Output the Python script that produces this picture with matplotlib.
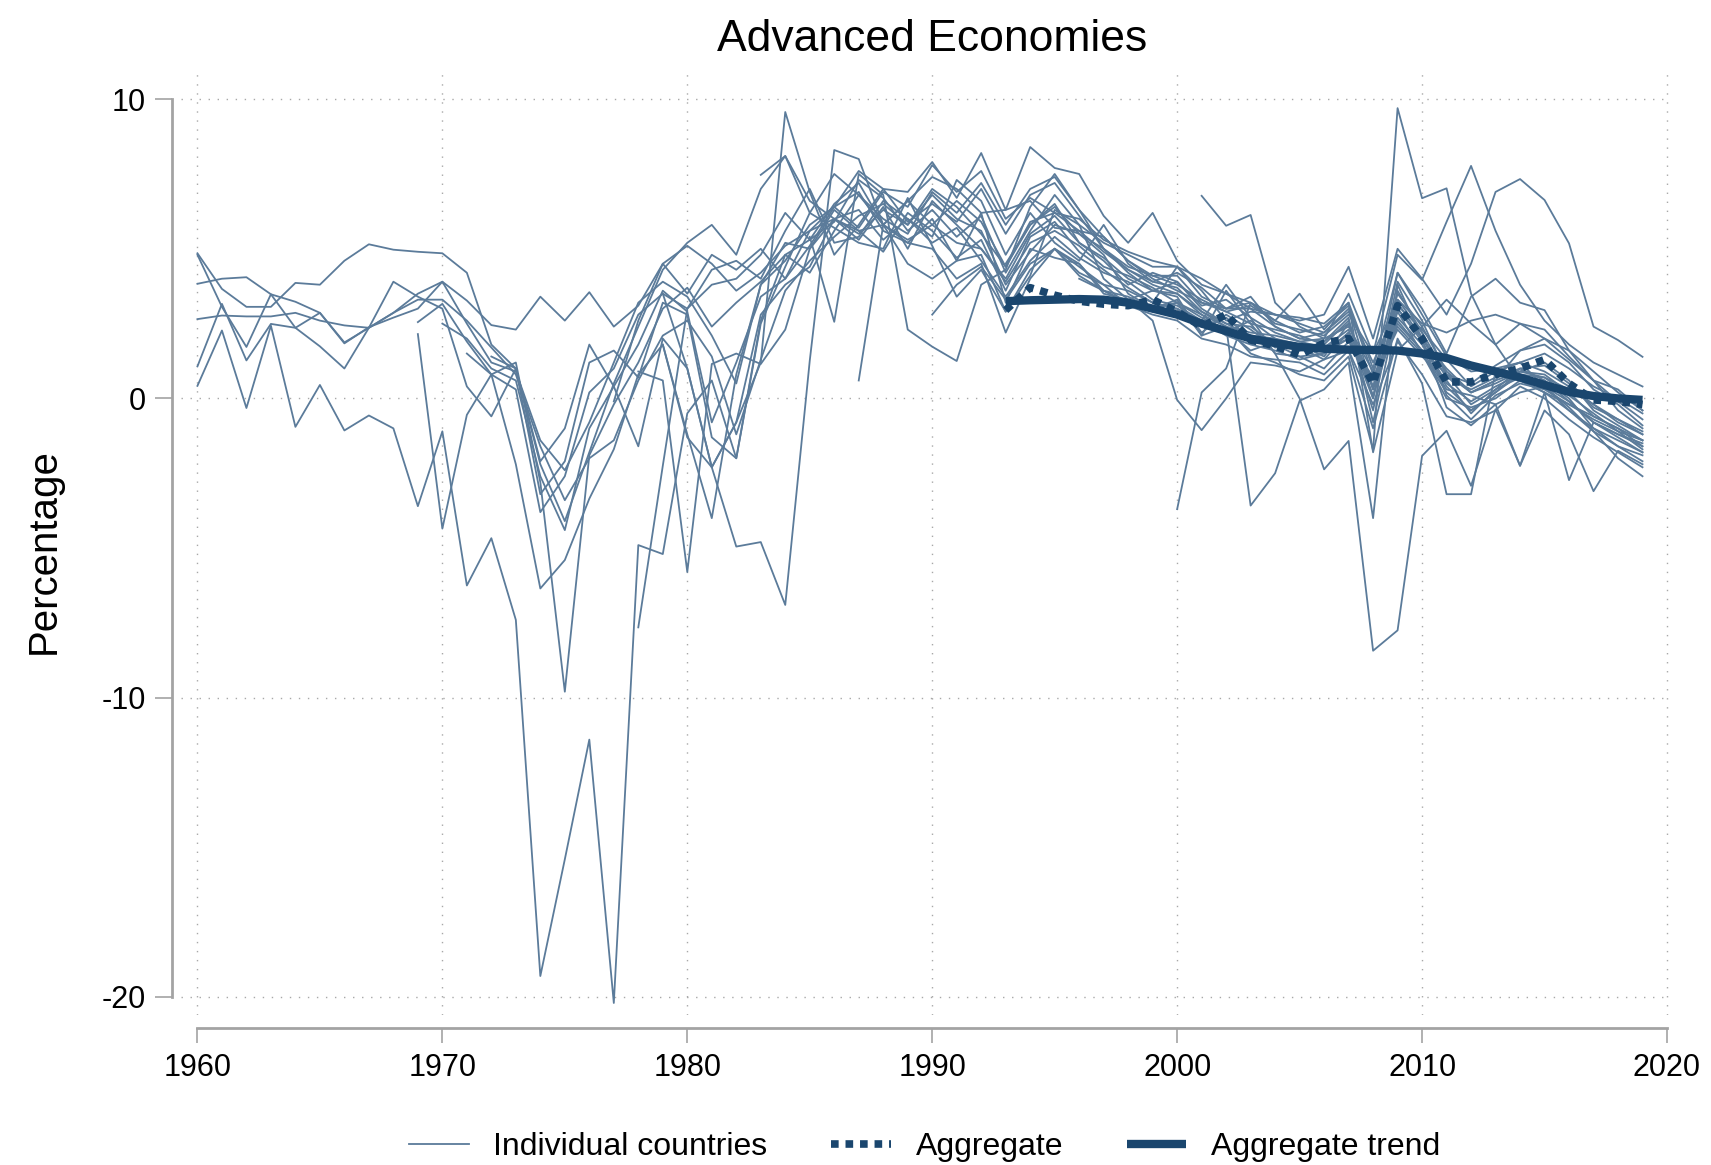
import numpy as np
import matplotlib
matplotlib.use("Agg")
import matplotlib.pyplot as plt
from matplotlib.lines import Line2D

plt.rcParams['font.family'] = ['Liberation Sans', 'DejaVu Sans']
plt.rcParams['axes.unicode_minus'] = False

# individual countries: first year with data, then one value per year up to 2019
c01 = [4.85, 3.66, 3.06, 3.06, 3.86, 3.80, 4.60, 5.15, 4.97, 4.90,
       4.85, 4.20, 1.80, 1.00, -2.20, -4.10, -1.80, 0.50, 2.40, 4.30,
       5.20, 5.80, 4.80, 7.00, 8.10, 6.20, 7.50, 6.80, 6.00, 5.50,
       6.90, 6.20, 7.20, 5.80, 7.00, 7.40, 6.30, 5.40, 4.60, 4.00,
       3.60, 3.20, 2.90, 3.10, 2.60, 2.20, 2.40, 3.10, 0.80, 3.50,
       2.40, 0.90, 0.20, 0.60, 1.60, 1.80, 1.20, 0.30, -0.20, -0.90]
c02 = [4.80, 3.06, 1.72, 3.48, 2.36, 2.86, 1.87, 2.36, 2.86, 3.50,
       3.90, 2.50, 1.20, 0.90, -1.40, -2.40, -0.80, 1.20, 3.20, 3.90,
       3.40, 2.10, 0.50, 3.80, 5.20, 5.00, 6.30, 5.60, 4.90, 6.20,
       5.60, 4.70, 5.30, 3.60, 5.40, 5.90, 4.90, 4.30, 3.70, 3.20,
       3.00, 2.40, 2.70, 2.00, 1.90, 1.60, 1.70, 2.30, 0.10, 2.70,
       1.80, 0.40, -0.40, 0.20, 0.90, 1.20, 0.60, -0.40, -0.90, -1.40]
c03 = [3.83, 4.00, 4.05, 3.48, 3.23, 2.86, 1.84, 2.38, 2.70, 3.00,
       3.90, 3.27, 2.45, 2.30, 3.40, 2.60, 3.55, 2.40, 3.10, 4.50,
       5.10, 4.50, 3.60, 4.20, 5.10, 5.60, 6.00, 5.30, 6.40, 5.00,
       6.60, 5.80, 5.00, 3.90, 5.20, 5.60, 5.10, 4.40, 4.10, 3.70,
       3.20, 2.70, 2.30, 1.60, 1.90, 1.70, 1.30, 2.20, -0.40, 3.60,
       2.20, 0.10, -0.70, 0.10, 0.50, 0.30, -0.20, -0.70, -1.10, -1.70]
c04 = [2.65, 2.77, 2.74, 2.74, 2.86, 2.60, 2.44, 2.36, 2.86, 3.30,
       3.30, 2.60, 1.70, 0.80, -1.60, -3.40, -2.00, -1.40, 0.60, 2.10,
       2.60, 1.40, -1.20, 1.30, 3.60, 4.60, 5.40, 6.10, 6.50, 5.80,
       6.80, 6.00, 5.60, 3.80, 4.90, 5.80, 5.50, 5.00, 4.40, 4.10,
       3.80, 3.30, 2.90, 2.50, 2.30, 2.10, 1.80, 2.60, 0.00, 3.90,
       2.60, 0.80, 0.50, 1.10, 1.60, 2.00, 1.30, 0.60, -0.10, -0.70]
c05 = [1.07, 3.16, 1.27, 2.49, 2.36, 1.74, 1.00, 2.36, 3.90, 3.40,
       3.00, 0.40, -0.60, 1.00, -3.20, -2.10, 1.20, 1.60, 0.70, 3.20,
       2.80, -1.30, -2.00, 2.50, 4.40, 6.20, 5.70, 5.20, 5.00, 6.70,
       5.10, 3.40, 4.30, 2.90, 4.10, 6.30, 5.80, 4.00, 3.30, 3.60,
       3.40, 2.10, 3.60, 2.50, 1.50, 1.40, 1.00, 1.90, 0.60, 2.30,
       1.40, 0.60, -0.50, 0.30, 1.00, 0.60, 0.00, -1.00, -1.60, -1.90]
c06 = [0.42, 2.27, -0.32, 2.43, -0.95, 0.45, -1.07, -0.57, -1.00, -3.60,
       -1.10, -6.25, -4.67, -7.40, -19.30, -15.40, -11.40, -20.20, -4.90, -5.20,
       -0.50, 0.60, -2.00, 2.60, 4.80, 4.20, 5.60, 6.80, 5.80, 4.50,
       4.00, 4.60, 6.20, 3.20, 5.00, 4.70, 4.50, 3.50, 3.30, 2.60,
       -0.05, -1.06, 0.00, 1.20, 1.10, 0.90, 1.30, 1.60, -0.20, 1.90,
       0.80, -0.60, -0.80, -0.40, 0.40, 0.00, -0.70, -1.30, -1.80, -2.30]
c07 = [2.55,
       3.16, 1.90, 0.80, 0.30, -3.80, -2.60, 0.20, 1.00, 2.80, 3.50,
       3.00, 4.30, 4.60, 4.00, 5.60, 7.00, 5.20, 5.40, 6.60, 6.00,
       5.40, 7.30, 6.60, 4.80, 6.20, 5.20, 4.60, 5.80, 4.50, 3.90,
       4.20, 3.70, 3.00, 3.40, 2.40, 2.00, 2.20, 3.00, 0.30, 4.20,
       3.00, 1.50, 3.40, 4.00, 3.20, 2.95, 1.60, 0.60, -0.40, -1.00]
c08 = [2.15,
       -4.35, -0.55, 0.80, -2.20, -6.35, -5.40, -3.35, -1.70, 0.80, 1.80,
       -1.20, -4.00, 0.80, 3.80, 4.60, 5.80, 6.40, 5.70, 6.90, 6.40,
       7.80, 6.90, 7.60, 6.00, 6.70, 6.20, 5.60, 4.90, 4.30, 3.80,
       3.50, 2.90, 2.50, 2.10, 2.00, 1.60, 1.90, 2.70, -0.80, 3.00,
       2.00, -0.30, -0.90, -0.20, 0.20, 0.40, -0.30, -1.10, -1.60, -2.10]
c09 = [1.50, 0.80, 1.20, -2.80, -9.80, -1.90, -0.20, 1.20, 3.00,
       3.70, 2.40, 3.20, 3.90, 4.80, 5.30, 5.90, 7.30, 6.70, 5.60,
       6.30, 5.40, 6.10, 4.20, 5.60, 6.80, 5.80, 5.20, 4.80, 4.40,
       4.40, 3.60, 2.60, 2.90, 2.80, 2.50, 2.20, 2.90, 1.20, 3.10,
       2.30, 1.30, 0.40, 0.90, 1.20, 0.90, 0.40, -0.20, -0.80, -1.20]
c10 = [2.50, 2.00, 1.00, 0.60, -2.60, -4.40, -1.00, 0.40, 1.80, 3.60,
       2.90, -0.80, 1.20, 3.40, 4.00, 5.10, 6.40, 6.90, 5.60, 5.20,
       6.00, 4.60, 4.80, 2.90, 4.30, 5.00, 4.40, 3.80, 3.10, 2.80,
       2.60, 2.00, 1.80, 1.40, 1.30, 1.20, 0.80, 1.60, -1.00, 2.00,
       0.50, -3.20, -3.20, 0.90, 1.20, 0.40, -0.40, -1.10, -2.00, -2.60]
c11 = [1.40, 1.00, -2.10, -1.00, 1.80, 0.40, -1.60, 2.00,
       1.00, -2.30, -0.80, 2.80, 3.80, 4.40, 6.00, 6.30, 5.30, 6.00,
       5.20, 5.70, 4.60, 3.40, 4.60, 5.40, 4.70, 4.20, 3.90, 3.30,
       3.10, 2.60, 2.10, 1.80, 1.60, 1.30, 1.50, 2.00, 0.40, 2.50,
       1.60, 0.30, 0.10, -0.20, -2.25, 0.20, -2.73, -0.80, -1.20, -1.50]
c12 = [-0.10, 2.60, 4.50,
       3.50, 4.80, 4.30, 5.00, 4.00, 5.60, 6.40, 7.60, 7.00, 6.90,
       7.90, 6.70, 8.20, 6.30, 8.40, 7.70, 7.50, 6.10, 5.20, 6.20,
       4.60, 3.80, 3.50, 3.00, 2.80, 2.70, 2.50, 3.20, 1.00, 4.20,
       2.80, 1.40, 0.90, 1.00, 1.20, 1.50, 1.00, 0.40, 0.00, -0.50]
c13 = [-7.65, -2.25,
       3.00, 3.80, 4.00, 4.80, 6.20, 5.30, 6.50, 7.20, 5.80, 6.60,
       5.80, 6.60, 5.90, 4.40, 5.80, 6.50, 5.20, 4.60, 3.80, 4.20,
       3.90, 3.10, 3.30, 2.70, 2.20, 1.90, 2.00, 2.40, 0.90, 3.20,
       2.00, 0.70, 0.30, 0.70, 1.00, 1.10, 0.50, -0.30, -0.70, -1.10]
c14 = [0.90, 0.60,
       -5.80, 1.15, 1.50, 1.15, 2.30, 5.00, 6.00, 5.60, 5.80, 5.20,
       5.00, 4.00, 4.50, 2.20, 4.00, 5.00, 4.10, 3.60, 3.40, 3.00,
       3.30, 2.20, 2.80, 2.30, 1.70, 1.80, 1.40, 2.50, 0.30, 2.90,
       1.50, 0.00, -0.30, 0.00, 0.60, 0.20, -0.40, -1.00, -1.40, -1.80]
c15 = [3.50,
       1.00, -2.30, -4.95, -4.80, -6.90, 1.26, 8.30, 8.00, 5.80, 5.30,
       5.80, 5.20, 5.00, 4.00, 5.50, 6.10, 5.20, 4.70, 4.00, 3.60,
       3.50, 2.80, 2.20, 2.60, 2.00, 1.80, 1.60, 2.00, 0.70, 2.60,
       1.60, 0.80, 0.20, 0.50, 0.90, 0.80, 0.20, -0.60, -1.00, -1.60]
c16 = [7.47, 8.10, 6.60, 6.00, 5.50, 6.30, 5.80,
       7.00, 6.40, 5.50, 4.40, 5.90, 6.20, 6.00, 5.30, 4.90, 4.60,
       4.40, 3.40, 3.00, 3.20, 2.50, 2.30, 2.10, 2.80, 1.50, 3.30,
       2.50, 2.20, 2.60, 2.80, 2.50, 2.30, 1.40, 0.60, 0.30, -0.40]
c17 = [1.80,
       -1.30, -2.30, -0.80, 1.20, 9.57, 6.90, 4.80, 5.80, 7.00, 5.90,
       6.50, 5.90, 7.00, 5.50, 6.80, 7.20, 6.10, 5.00, 4.30, 3.90,
       3.70, 2.90, 2.40, 2.20, 2.10, 1.90, 1.70, 2.10, 0.00, 3.30,
       2.20, 0.80, -0.20, 0.30, 0.70, 0.60, -0.10, -0.80, -1.30, -1.80]
c18 = [0.60, 5.80, 6.60,
       7.40, 7.00, 6.20, 6.30, 6.60, 5.70, 5.60, 5.40, 4.60, 4.10,
       4.10, 3.20, 3.00, 3.00, 2.40, 2.00, 1.90, 2.50, 0.40, 3.00,
       1.90, 0.50, -0.10, 0.40, 0.80, 0.70, 0.10, -0.50, -1.10, -1.40]
c19 = [5.40, 2.56, 7.50, 6.80, 2.30,
       1.73, 1.25, 3.80, 4.30, 6.40, 7.50, 6.30, 5.00, 4.20, 3.60,
       3.90, 3.00, 2.50, 2.40, 1.80, 1.40, 1.50, 2.20, 0.60, 2.40,
       1.50, 0.20, -0.40, 0.20, 0.80, 0.40, -0.10, -0.80, -1.20, -1.60]
c20 = [2.80, 3.80, 4.40, 3.30, 4.50, 5.00, 4.20, 3.80, 3.60, 3.20,
       4.40, 4.00, 3.50, 3.20, 2.80, 2.60, 2.80, 4.40, 2.00, 5.00,
       4.00, 2.80, 4.50, 6.90, 7.33, 6.63, 5.18, 2.40, 1.95, 1.39]
c21 = [6.77, 5.77, 6.13, 3.20, 2.40, 2.00, 3.50, 1.50, 4.80,
       3.96, 5.90, 7.77, 5.60, 3.80, 2.60, 1.80, 1.20, 0.80, 0.40]
c22 = [-3.70, 0.20, 1.00, 3.20, 2.60, 3.50, 2.30, 3.20, -1.80, 1.60,
       2.40, 3.30, 2.50, 1.80, 2.50, 2.00, 1.60, 0.90, 0.20, -0.40]
c23 = [4.50, 5.80, 6.40, 5.50, 4.80, 3.50, 3.00,
       3.20, 2.10, 2.40, 1.50, 1.20, 0.80, 0.60, 1.40, -1.73, 9.70,
       6.69, 7.02, 3.50, 1.80, 0.60, 0.20, -0.20, -0.60, -1.00, -1.40]
c24 = [4.00, 3.60, 3.20, 2.90,
       3.00, 2.60, 3.80, 2.70, 1.50, 0.00, -2.37, -1.42, -8.43, -7.75,
       -1.92, -1.08, -2.92, -0.36, -2.25, -0.40, -1.20, -3.10, -1.75, -2.20]
c25 = [5.00, 4.50, 3.60, 3.20, 3.00,
       3.20, 2.80, 2.40, -3.58, -2.50, -0.08, 0.30, 1.20, -4.00, 3.80,
       2.00, 1.00, 0.20, 0.60, 0.90, 0.70, 0.30, -0.20, -0.70, -1.20]

countries = [c01, c02, c03, c04, c05, c06, c07, c08, c09, c10, c11, c12, c13,
             c14, c15, c16, c17, c18, c19, c20, c21, c22, c23, c24, c25]
start_years = [1960, 1960, 1960, 1960, 1960, 1960, 1969, 1969, 1971, 1970, 1972, 1977, 1978,
               1978, 1979, 1983, 1979, 1987, 1985, 1990, 2001, 2000, 1993, 1996, 1995]

agg_years = list(range(1993, 2020))
aggregate = [2.95, 3.70, 3.45, 3.25, 3.15, 3.10, 3.30, 2.90, 2.40, 2.80,
             1.95, 1.75, 1.45, 1.85, 2.00, 0.50, 3.10, 2.00, 0.55, 0.55,
             0.80, 1.00, 1.30, 0.50, -0.05, -0.10, -0.20]
agg_trend = [3.25, 3.28, 3.30, 3.32, 3.30, 3.20, 3.00, 2.80, 2.50, 2.25,
             2.00, 1.85, 1.72, 1.66, 1.63, 1.62, 1.60, 1.50, 1.35, 1.10,
             0.90, 0.70, 0.45, 0.22, 0.08, 0.00, -0.05]

indiv_color = '#5b7b9a'
agg_color = '#1a466e'
axis_gray = '#a3a3a3'

fig = plt.figure(figsize=(17.11, 11.65), dpi=100)
ax = fig.add_axes([0.1058, 0.1288, 0.976 - 0.1058, 0.9393 - 0.1288])

for start, vals in zip(start_years, countries):
    yrs = np.arange(start, start + len(vals))
    ax.plot(yrs, vals, color=indiv_color, lw=1.3, zorder=2)

ax.plot(agg_years, aggregate, color=agg_color, lw=5.5, linestyle=(0, (1, 0.9)),
        dash_capstyle='butt', zorder=3)
ax.plot(agg_years, agg_trend, color=agg_color, lw=6, solid_capstyle='butt', zorder=4)

ax.set_xlim(1959.33, 2020.12)
ax.set_ylim(-20.6, 10.95)
ax.set_xticks([1960, 1970, 1980, 1990, 2000, 2010, 2020])
ax.set_yticks([-20, -10, 0, 10])
ax.grid(True, linestyle=(0, (1, 5.5)), color='#a8a8a8', lw=1.0)
ax.set_axisbelow(True)

for s in ['top', 'right']:
    ax.spines[s].set_visible(False)
ax.spines['left'].set_position(('outward', 6.5))
ax.spines['left'].set_bounds(-20, 10)
ax.spines['bottom'].set_position(('outward', 9.4))
ax.spines['bottom'].set_bounds(1960, 2020)
for s in ['left', 'bottom']:
    ax.spines[s].set_color(axis_gray)
    ax.spines[s].set_linewidth(2)

ax.tick_params(axis='y', length=12, width=1.2, color=axis_gray, pad=7, labelsize=22)
ax.tick_params(axis='x', length=11, width=1.2, color=axis_gray, pad=7, labelsize=22)

fig.text(0.5447, 0.966, 'Advanced Economies', ha='center', va='center', fontsize=32)
fig.text(0.0257, 0.527, 'Percentage', ha='center', va='center', rotation=90, fontsize=29)

handles = [
    Line2D([], [], color=indiv_color, lw=1.3),
    Line2D([], [], color=agg_color, lw=5.5, linestyle=(0, (1, 0.9)), dash_capstyle='butt'),
    Line2D([], [], color=agg_color, lw=6, solid_capstyle='butt'),
]
fig.legend(handles, ['Individual countries', 'Aggregate', 'Aggregate trend'],
           loc='center', bbox_to_anchor=(0.5405, 0.0155), ncol=3, frameon=False,
           fontsize=23, handlelength=1.85, handletextpad=0.78, columnspacing=2.0)

fig.savefig('out.png', dpi=100)
